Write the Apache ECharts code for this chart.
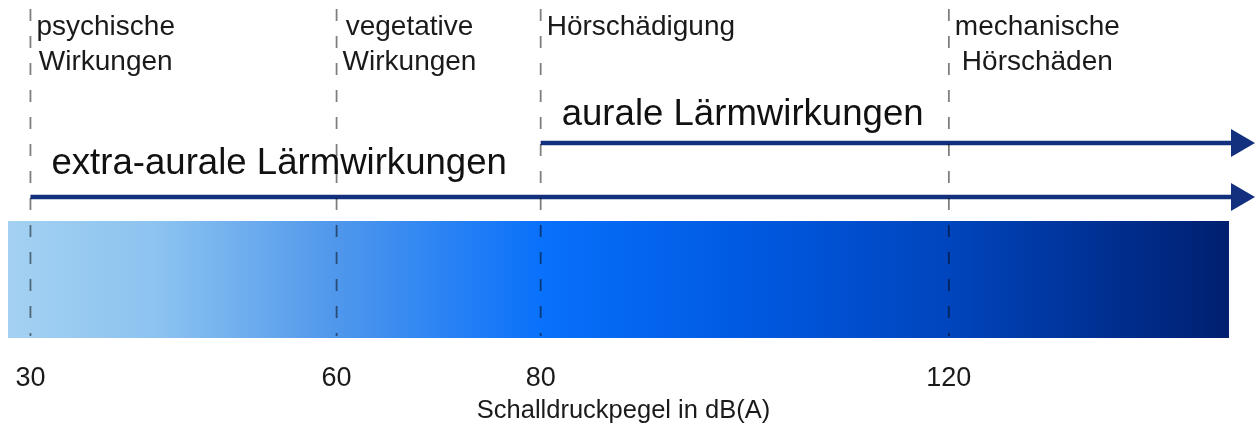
<!DOCTYPE html>
<html>
<head>
<meta charset="utf-8">
<script src="https://cdn.jsdelivr.net/npm/echarts@6/dist/echarts.min.js"></script>
<style>
    html, body { margin: 0; padding: 0; background: #fff; }
    #chart { width: 1258px; height: 430px; }
</style>
</head>
<body>
<div id="chart"></div>
<script>
    // Werte in dB(A)
    var boundaries = [30, 60, 80, 120];
    var zoneLabels = ['psychische\nWirkungen', 'vegetative\nWirkungen', 'Hörschädigung', 'mechanische\nHörschäden'];
    var tickValues = [30, 60, 80, 120];
    var barRange = [27.8, 147.45];
    var arrowStarts = [30, 80];
    var arrowEnd = 150;
    var arrowLabels = ['extra-aurale Lärmwirkungen', 'aurale Lärmwirkungen'];
    var axisName = 'Schalldruckpegel in dB(A)';

    var FONT = '"Liberation Sans", Arial, sans-serif';
    var NAVY = '#13307e';
    // y-Achse läuft in Pixeln von oben (0) bis Balkenunterkante (338)
    var BAR_TOP = 221, BAR_BOTTOM = 338, DASH_TOP = 9;
    var arrowRows = [{ line: 197, text: 164 }, { line: 143, text: 114.5 }];

    var measureCtx = document.createElement('canvas').getContext('2d');
    function blockWidth (text, size) {
        measureCtx.font = size + 'px ' + FONT;
        return Math.max.apply(null, text.split('\n').map(function (l) {
            return measureCtx.measureText(l).width;
        }));
    }

    var chart = echarts.init(document.getElementById('chart'));
    chart.setOption({
        animation: false,
        grid: { left: 8, right: 3, top: 0, bottom: 430 - BAR_BOTTOM },
        xAxis: {
            type: 'value',
            min: 27.8,
            max: arrowEnd,
            axisLine: { show: false },
            axisTick: { show: false },
            splitLine: { show: false },
            axisLabel: {
                customValues: tickValues,
                margin: 27,
                fontSize: 27,
                fontFamily: FONT,
                color: '#1a1a1a'
            },
            name: axisName,
            nameLocation: 'middle',
            nameGap: 60,
            nameTextStyle: {
                fontSize: 25.5,
                fontFamily: FONT,
                color: '#1a1a1a',
                padding: [0, 16, 0, 0]
            }
        },
        yAxis: {
            type: 'value',
            min: 0,
            max: BAR_BOTTOM,
            inverse: true,
            show: false
        },
        series: [
            {
                // Farbverlauf-Balken
                type: 'custom',
                silent: true,
                z: 1,
                data: [barRange],
                renderItem: function (params, api) {
                    var a = api.coord([api.value(0), BAR_TOP]);
                    var b = api.coord([api.value(1), BAR_BOTTOM]);
                    return {
                        type: 'rect',
                        shape: { x: a[0], y: a[1], width: b[0] - a[0], height: b[1] - a[1] },
                        style: {
                            fill: new echarts.graphic.LinearGradient(0, 0, 1, 0, [
                                { offset: 0, color: '#a4d1f2' },
                                { offset: 0.12, color: '#8cc3f0' },
                                { offset: 0.27, color: '#4f97ec' },
                                { offset: 0.44, color: '#0870fb' },
                                { offset: 0.6, color: '#005ae2' },
                                { offset: 0.77, color: '#0045bd' },
                                { offset: 1, color: '#001f70' }
                            ])
                        }
                    };
                }
            },
            {
                // Pfeile
                type: 'custom',
                silent: true,
                z: 2,
                data: arrowStarts.map(function (s, i) { return [s, arrowEnd, i]; }),
                renderItem: function (params, api) {
                    var i = api.value(2);
                    var row = arrowRows[i];
                    var p0 = api.coord([api.value(0), row.line]);
                    var p1 = api.coord([api.value(1), row.line]);
                    var headLen = 24, headHalf = 14;
                    return {
                        type: 'group',
                        children: [
                            {
                                type: 'line',
                                shape: { x1: p0[0], y1: p0[1], x2: p1[0] - headLen + 2, y2: p1[1] },
                                style: { stroke: NAVY, lineWidth: 4.5 }
                            },
                            {
                                type: 'polygon',
                                shape: { points: [[p1[0] - headLen, p1[1] - headHalf], [p1[0], p1[1]], [p1[0] - headLen, p1[1] + headHalf]] },
                                style: { fill: NAVY }
                            },
                            {
                                type: 'text',
                                style: {
                                    text: arrowLabels[i],
                                    x: p0[0] + 21,
                                    y: api.coord([0, row.text])[1],
                                    align: 'left',
                                    verticalAlign: 'middle',
                                    fontSize: 36.6,
                                    fontFamily: FONT,
                                    fill: '#111'
                                }
                            }
                        ]
                    };
                }
            },
            {
                // gestrichelte Grenzen + Bereichsnamen
                type: 'custom',
                silent: true,
                z: 3,
                data: boundaries.map(function (v, i) { return [v, i]; }),
                renderItem: function (params, api) {
                    var i = api.value(1);
                    var top = api.coord([api.value(0), DASH_TOP]);
                    var bottom = api.coord([api.value(0), BAR_BOTTOM - 2]);
                    var label = zoneLabels[i];
                    var w = blockWidth(label, 28);
                    return {
                        type: 'group',
                        children: [
                            {
                                type: 'line',
                                shape: { x1: top[0], y1: top[1], x2: bottom[0], y2: bottom[1] },
                                style: { stroke: 'rgba(0,0,0,0.5)', lineWidth: 1.8, lineDash: [12, 15] }
                            },
                            {
                                type: 'text',
                                style: {
                                    text: label,
                                    x: top[0] + 6 + w / 2,
                                    y: 10,
                                    align: 'center',
                                    verticalAlign: 'top',
                                    fontSize: 28,
                                    lineHeight: 35,
                                    fontFamily: FONT,
                                    fill: '#1a1a1a'
                                }
                            }
                        ]
                    };
                }
            }
        ]
    });
</script>
</body>
</html>
